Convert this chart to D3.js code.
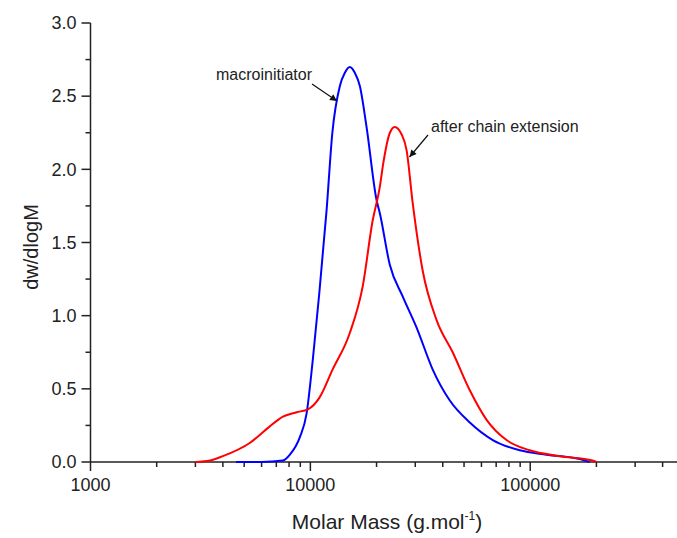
<!DOCTYPE html>
<html>
<head>
<meta charset="utf-8">
<script src="https://cdn.jsdelivr.net/npm/d3@7"></script>
<style>
  html, body { margin: 0; padding: 0; background: #fff; }
  svg { display: block; font-family: Arial, "Liberation Sans", sans-serif; }
</style>
</head>
<body>
<svg id="chart" width="677" height="538"></svg>
<script>
// ---- data ----
const macroMass  = [4590, 6000, 7500, 8070, 8960, 9610, 10260, 10990, 11850, 12590, 13620, 14350, 15120, 15930, 16790, 18010, 20000, 20700, 22960, 26320, 30390, 36060, 43080, 53100, 67570, 89600, 118500, 168000, 186400];
const macroValue = [0.00, 0.00, 0.01, 0.05, 0.17, 0.33, 0.70, 1.16, 1.72, 2.25, 2.57, 2.66, 2.70, 2.66, 2.57, 2.29, 1.79, 1.70, 1.35, 1.13, 0.92, 0.63, 0.42, 0.27, 0.15, 0.08, 0.05, 0.02, 0.00];

const chainMass  = [3000, 3500, 4000, 5300, 6500, 7500, 8650, 9750, 11000, 12600, 15100, 17300, 19200, 20700, 21400, 23000, 24200, 25980, 27400, 29200, 32400, 37500, 44400, 53100, 63200, 78000, 99500, 136000, 192000, 200000];
const chainValue = [0.00, 0.01, 0.04, 0.13, 0.24, 0.31, 0.34, 0.36, 0.44, 0.63, 0.88, 1.20, 1.65, 1.88, 2.03, 2.25, 2.29, 2.24, 2.13, 1.77, 1.31, 0.97, 0.75, 0.49, 0.29, 0.15, 0.08, 0.04, 0.01, 0.00];

const xMajorTicks = [1000, 10000, 100000];
const xMinorTicks = [2000,3000,4000,5000,6000,7000,8000,9000,20000,30000,40000,50000,60000,70000,80000,90000,200000,300000,400000];
const yMajorTicks = [0, 0.5, 1.0, 1.5, 2.0, 2.5, 3.0];
const yMinorTicks = [0.25, 0.75, 1.25, 1.75, 2.25, 2.75];

const seriesNames = ["macroinitiator", "after chain extension"];
const seriesColors = ["#0000ff", "#ff0000"];

// ---- chart ----
const svg = d3.select("#chart");
const x = d3.scaleLog().domain([1000, 470000]).range([90.5, 678]);
const y = d3.scaleLinear().domain([0, 3]).range([462, 23]);
const axisColor = "#222";
const textColor = "#222";

// x axis
const gx = svg.append("g").attr("transform", `translate(0,${y(0)})`);
gx.append("line").attr("x1", x.range()[0]).attr("x2", x.range()[1])
  .attr("stroke", axisColor).attr("stroke-width", 1.5);
gx.selectAll(".xmin").data(xMinorTicks).join("line")
  .attr("x1", d => x(d)).attr("x2", d => x(d)).attr("y1", 0).attr("y2", 5)
  .attr("stroke", axisColor).attr("stroke-width", 1.5);
gx.selectAll(".xmaj").data(xMajorTicks).join("line")
  .attr("x1", d => x(d)).attr("x2", d => x(d)).attr("y1", 0).attr("y2", 9)
  .attr("stroke", axisColor).attr("stroke-width", 1.5);
gx.selectAll(".xlab").data(xMajorTicks).join("text")
  .attr("x", d => x(d)).attr("y", 29).attr("text-anchor", "middle")
  .attr("font-size", 18).attr("fill", textColor).text(d => d3.format("d")(d));

// y axis
const gy = svg.append("g").attr("transform", `translate(${x.range()[0]},0)`);
gy.append("line").attr("y1", y(0)).attr("y2", y(3))
  .attr("stroke", axisColor).attr("stroke-width", 1.5);
gy.selectAll(".ymin").data(yMinorTicks).join("line")
  .attr("y1", d => y(d)).attr("y2", d => y(d)).attr("x1", 0).attr("x2", -5)
  .attr("stroke", axisColor).attr("stroke-width", 1.5);
gy.selectAll(".ymaj").data(yMajorTicks).join("line")
  .attr("y1", d => y(d)).attr("y2", d => y(d)).attr("x1", 0).attr("x2", -9)
  .attr("stroke", axisColor).attr("stroke-width", 1.5);
gy.selectAll(".ylab").data(yMajorTicks).join("text")
  .attr("x", -14).attr("y", d => y(d)).attr("dy", "0.35em").attr("text-anchor", "end")
  .attr("font-size", 18).attr("fill", textColor).text(d => d3.format(".1f")(d));

// axis titles
svg.append("text").attr("transform", `translate(38,247) rotate(-90)`)
  .attr("text-anchor", "middle").attr("font-size", 20).attr("fill", textColor).text("dw/dlogM");
const xt = svg.append("text").attr("x", 387).attr("y", 529).attr("text-anchor", "middle")
  .attr("font-size", 21).attr("fill", textColor);
xt.append("tspan").text("Molar Mass (g.mol");
xt.append("tspan").attr("font-size", 12).attr("dy", -9).text("-1");
xt.append("tspan").attr("dy", 9).text(")");

// curves
const line = d3.line().x(d => x(d[0])).y(d => y(d[1])).curve(d3.curveMonotoneX);
const series = [
  d3.zip(macroMass, macroValue),
  d3.zip(chainMass, chainValue)
];
svg.selectAll(".curve").data(series).join("path")
  .attr("d", line).attr("fill", "none")
  .attr("stroke", (d, i) => seriesColors[i]).attr("stroke-width", 2);

// annotations
const defs = svg.append("defs");
defs.append("marker").attr("id", "arr").attr("viewBox", "0 0 10 10")
  .attr("refX", 10).attr("refY", 5).attr("markerWidth", 10).attr("markerHeight", 7)
  .attr("markerUnits", "userSpaceOnUse").attr("orient", "auto")
  .append("path").attr("d", "M0,0 L10,5 L0,10 Z").attr("fill", "#111");

svg.append("text").attr("x", 216).attr("y", 80).attr("font-size", 16).attr("fill", textColor).text(seriesNames[0]);
svg.append("line").attr("x1", 312).attr("y1", 84).attr("x2", 337).attr("y2", 101)
  .attr("stroke", "#111").attr("stroke-width", 1.2).attr("marker-end", "url(#arr)");

svg.append("text").attr("x", 431).attr("y", 132).attr("font-size", 16).attr("fill", textColor).text(seriesNames[1]);
svg.append("line").attr("x1", 428).attr("y1", 135).attr("x2", 409.5).attr("y2", 157)
  .attr("stroke", "#111").attr("stroke-width", 1.2).attr("marker-end", "url(#arr)");
</script>
</body>
</html>
